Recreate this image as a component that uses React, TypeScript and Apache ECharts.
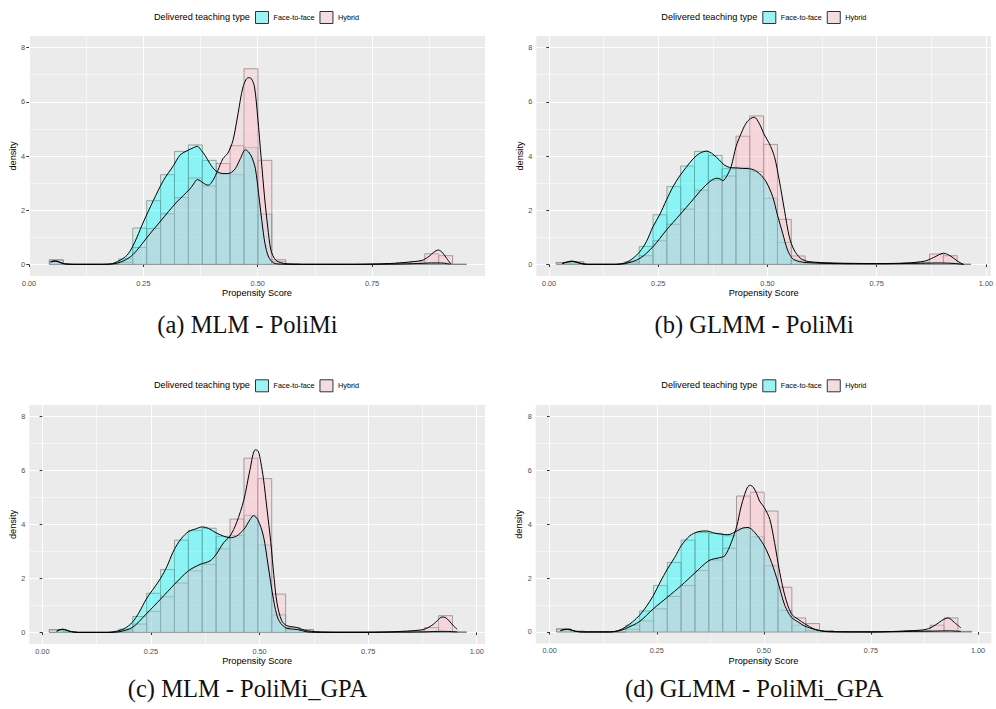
import React, { useEffect, useRef } from "react";
import * as echarts from "echarts";

// ---------- data ----------
const groupNames = ["Face-to-face", "Hybrid"];
const legendTitle = "Delivered teaching type";
const xTitle = "Propensity Score";
const yTitle = "density";
const xTickValues = [0, 0.25, 0.5, 0.75, 1];
const xMinorValues = [0.125, 0.375, 0.625, 0.875];
const yTickValues = [0, 2, 4, 6, 8];
const yMinorValues = [1, 3, 5, 7];
const captions = [
  "(a) MLM - PoliMi",
  "(b) GLMM - PoliMi",
  "(c) MLM - PoliMi_GPA",
  "(d) GLMM - PoliMi_GPA",
];

// Panel (a)
const binStartA = 0.0445;
const binWidthA = 0.0304;
const f2fHistA = [0.15, 0, 0, 0, 0, 0.2, 1.34, 2.35, 3.31, 4.17, 4.41, 3.84, 3.33, 3.31, 4.31, 1.85, 0.1, 0.02, 0, 0, 0, 0, 0, 0, 0.01, 0.02, 0.04, 0.06, 0.05, 0];
const hybHistA = [0.17, 0, 0, 0, 0, 0.08, 0.62, 1.32, 1.87, 2.46, 3.19, 2.89, 3.72, 4.38, 7.22, 3.84, 0.17, 0.02, 0, 0, 0, 0, 0, 0, 0.03, 0.06, 0.1, 0.39, 0.32, 0];
const f2fDensA = [[0.047, 0.09], [0.055, 0.13], [0.062, 0.12], [0.07, 0.06], [0.08, 0.02], [0.1, 0.0], [0.15, 0.0], [0.177, 0.01], [0.199, 0.15], [0.214, 0.33], [0.226, 0.64], [0.236, 1.0], [0.25, 1.56], [0.272, 2.36], [0.294, 3.1], [0.316, 3.65], [0.33, 4.03], [0.345, 4.19], [0.36, 4.31], [0.368, 4.36], [0.377, 4.2], [0.385, 4.02], [0.396, 3.71], [0.407, 3.47], [0.418, 3.37], [0.429, 3.35], [0.44, 3.37], [0.451, 3.53], [0.462, 3.9], [0.473, 4.23], [0.48, 4.15], [0.487, 3.96], [0.495, 3.53], [0.502, 2.61], [0.509, 1.62], [0.516, 0.76], [0.524, 0.27], [0.535, 0.05], [0.55, 0.01], [0.6, 0.0], [0.7, 0.0], [0.8, 0.01], [0.85, 0.03], [0.88, 0.05], [0.9, 0.05], [0.92, 0.01]];
const hybDensA = [[0.047, 0.08], [0.055, 0.11], [0.062, 0.1], [0.07, 0.05], [0.08, 0.01], [0.1, 0.0], [0.15, 0.0], [0.18, 0.01], [0.2, 0.08], [0.221, 0.27], [0.235, 0.5], [0.25, 0.82], [0.268, 1.2], [0.286, 1.56], [0.305, 1.95], [0.323, 2.3], [0.338, 2.55], [0.352, 2.79], [0.36, 2.97], [0.368, 3.13], [0.375, 3.08], [0.381, 3.0], [0.392, 2.92], [0.402, 3.1], [0.413, 3.47], [0.424, 3.9], [0.435, 4.11], [0.446, 4.58], [0.457, 5.56], [0.468, 6.55], [0.479, 6.89], [0.486, 6.86], [0.493, 6.55], [0.5, 5.44], [0.508, 3.84], [0.515, 2.49], [0.522, 1.38], [0.529, 0.52], [0.54, 0.15], [0.562, 0.02], [0.6, 0.0], [0.7, 0.0], [0.75, 0.01], [0.8, 0.04], [0.84, 0.1], [0.86, 0.15], [0.875, 0.3], [0.885, 0.45], [0.895, 0.53], [0.903, 0.45], [0.912, 0.25], [0.923, 0.0]];

// Panel (b)
const binStartB = 0.0167;
const binWidthB = 0.03164;
const f2fHistB = [0.05, 0.1, 0, 0, 0, 0.1, 0.66, 1.83, 2.87, 3.63, 4.17, 4.02, 3.53, 3.58, 3.43, 2.44, 0.81, 0.16, 0.05, 0.03, 0.02, 0.01, 0.01, 0.01, 0.02, 0.03, 0.04, 0.05, 0.04, 0];
const hybHistB = [0.07, 0.05, 0, 0, 0, 0.05, 0.32, 0.87, 1.48, 2.04, 2.74, 3.11, 3.26, 4.73, 5.48, 4.43, 1.66, 0.31, 0.08, 0.05, 0.03, 0.02, 0.02, 0.02, 0.03, 0.05, 0.08, 0.38, 0.32, 0];
const f2fDensB = [[0.03, 0.04], [0.042, 0.09], [0.052, 0.12], [0.062, 0.09], [0.075, 0.03], [0.09, 0.0], [0.15, 0.0], [0.175, 0.06], [0.192, 0.22], [0.208, 0.47], [0.223, 0.84], [0.238, 1.39], [0.253, 1.82], [0.269, 2.38], [0.284, 2.87], [0.299, 3.26], [0.314, 3.58], [0.329, 3.88], [0.345, 4.1], [0.361, 4.18], [0.375, 4.07], [0.39, 3.85], [0.401, 3.67], [0.413, 3.58], [0.428, 3.56], [0.443, 3.54], [0.459, 3.53], [0.47, 3.48], [0.481, 3.36], [0.497, 3.05], [0.512, 2.5], [0.523, 1.82], [0.535, 1.14], [0.546, 0.53], [0.557, 0.22], [0.573, 0.1], [0.595, 0.06], [0.65, 0.03], [0.75, 0.02], [0.85, 0.04], [0.9, 0.05], [0.93, 0.03], [0.95, 0.0]];
const hybDensB = [[0.03, 0.03], [0.042, 0.08], [0.052, 0.11], [0.062, 0.08], [0.075, 0.02], [0.09, 0.0], [0.15, 0.0], [0.175, 0.03], [0.208, 0.22], [0.238, 0.65], [0.269, 1.27], [0.299, 1.82], [0.329, 2.38], [0.352, 2.81], [0.368, 3.05], [0.383, 3.18], [0.392, 3.15], [0.398, 3.09], [0.407, 3.26], [0.417, 3.61], [0.428, 4.34], [0.44, 4.84], [0.451, 5.21], [0.462, 5.39], [0.47, 5.43], [0.481, 5.21], [0.493, 4.78], [0.504, 4.47], [0.516, 3.98], [0.527, 3.11], [0.539, 2.0], [0.55, 1.02], [0.561, 0.53], [0.576, 0.22], [0.595, 0.1], [0.65, 0.05], [0.75, 0.03], [0.82, 0.05], [0.86, 0.12], [0.88, 0.25], [0.903, 0.41], [0.92, 0.3], [0.935, 0.12], [0.948, 0.0]];

// Panel (c)
const binStartC = 0.0161;
const binWidthC = 0.032;
const f2fHistC = [0.1, 0.02, 0, 0, 0, 0.12, 0.59, 1.45, 2.33, 3.42, 3.78, 3.86, 3.56, 3.59, 4.34, 3.24, 0.65, 0.1, 0.1, 0.02, 0.01, 0.01, 0.01, 0.01, 0.01, 0.01, 0.02, 0.03, 0.03, 0.01];
const hybHistC = [0.1, 0.02, 0, 0, 0, 0.05, 0.31, 0.78, 1.32, 1.83, 2.28, 2.52, 3.1, 4.2, 6.46, 5.7, 1.42, 0.18, 0.1, 0.02, 0.01, 0.01, 0.01, 0.01, 0.01, 0.03, 0.06, 0.18, 0.62, 0.02];
const f2fDensC = [[0.033, 0.05], [0.04, 0.1], [0.047, 0.12], [0.055, 0.09], [0.065, 0.04], [0.08, 0.0], [0.15, 0.0], [0.175, 0.06], [0.19, 0.15], [0.207, 0.37], [0.223, 0.75], [0.239, 1.23], [0.255, 1.6], [0.272, 2.0], [0.287, 2.45], [0.3, 2.95], [0.31, 3.25], [0.321, 3.5], [0.336, 3.73], [0.355, 3.85], [0.368, 3.91], [0.382, 3.86], [0.4, 3.69], [0.417, 3.57], [0.432, 3.51], [0.447, 3.57], [0.464, 3.82], [0.478, 4.18], [0.486, 4.33], [0.496, 4.18], [0.509, 3.57], [0.52, 2.46], [0.532, 1.23], [0.543, 0.49], [0.559, 0.18], [0.578, 0.12], [0.59, 0.1], [0.609, 0.02], [0.65, 0.0], [0.8, 0.01], [0.88, 0.02], [0.92, 0.04], [0.955, 0.02]];
const hybDensC = [[0.033, 0.04], [0.04, 0.09], [0.047, 0.11], [0.055, 0.08], [0.065, 0.03], [0.08, 0.0], [0.15, 0.0], [0.175, 0.02], [0.207, 0.18], [0.239, 0.68], [0.272, 1.23], [0.304, 1.78], [0.336, 2.28], [0.363, 2.52], [0.386, 2.65], [0.4, 2.89], [0.417, 3.32], [0.432, 3.57], [0.447, 4.06], [0.464, 4.92], [0.478, 6.03], [0.49, 6.77], [0.497, 6.72], [0.503, 6.3], [0.509, 5.7], [0.517, 4.6], [0.526, 3.32], [0.533, 2.1], [0.54, 1.11], [0.551, 0.43], [0.563, 0.25], [0.586, 0.18], [0.609, 0.06], [0.65, 0.01], [0.75, 0.0], [0.8, 0.02], [0.85, 0.06], [0.88, 0.12], [0.9, 0.3], [0.91, 0.45], [0.92, 0.57], [0.928, 0.55], [0.937, 0.42], [0.946, 0.25], [0.955, 0.12]];

// Panel (d)
const binStartD = 0.0163;
const binWidthD = 0.0323;
const f2fHistD = [0.1, 0.03, 0, 0, 0, 0.25, 0.78, 1.72, 2.58, 3.41, 3.69, 3.66, 3.57, 3.85, 3.53, 2.46, 0.8, 0.25, 0.05, 0.02, 0.01, 0.01, 0.01, 0.01, 0.01, 0.02, 0.02, 0.03, 0.03, 0.02];
const hybHistD = [0.12, 0.02, 0, 0, 0, 0.1, 0.41, 0.86, 1.32, 1.72, 2.28, 2.67, 3.11, 5.05, 5.19, 4.49, 1.66, 0.52, 0.31, 0.05, 0.01, 0.01, 0.01, 0.01, 0.01, 0.03, 0.05, 0.25, 0.52, 0.02];
const f2fDensD = [[0.025, 0.05], [0.033, 0.09], [0.042, 0.1], [0.05, 0.08], [0.06, 0.03], [0.075, 0.0], [0.14, 0.0], [0.16, 0.05], [0.177, 0.18], [0.194, 0.38], [0.21, 0.62], [0.226, 0.95], [0.242, 1.35], [0.258, 1.85], [0.275, 2.34], [0.292, 2.77], [0.307, 3.2], [0.327, 3.57], [0.346, 3.72], [0.366, 3.75], [0.385, 3.67], [0.401, 3.63], [0.416, 3.61], [0.437, 3.75], [0.451, 3.86], [0.463, 3.88], [0.479, 3.69], [0.501, 3.2], [0.518, 2.58], [0.533, 1.85], [0.549, 0.98], [0.564, 0.55], [0.58, 0.37], [0.595, 0.22], [0.619, 0.09], [0.65, 0.01], [0.75, 0.0], [0.85, 0.02], [0.9, 0.03], [0.93, 0.04], [0.96, 0.02]];
const hybDensD = [[0.025, 0.04], [0.033, 0.08], [0.042, 0.09], [0.05, 0.07], [0.06, 0.02], [0.075, 0.0], [0.14, 0.0], [0.16, 0.03], [0.177, 0.12], [0.21, 0.39], [0.242, 0.86], [0.275, 1.29], [0.307, 1.72], [0.339, 2.19], [0.372, 2.65], [0.397, 2.76], [0.409, 2.83], [0.424, 3.32], [0.437, 3.94], [0.446, 4.6], [0.455, 5.1], [0.462, 5.38], [0.468, 5.45], [0.475, 5.38], [0.483, 5.15], [0.49, 4.86], [0.501, 4.62], [0.514, 4.18], [0.525, 3.32], [0.537, 2.22], [0.549, 1.35], [0.564, 0.68], [0.58, 0.47], [0.595, 0.31], [0.619, 0.1], [0.65, 0.01], [0.75, 0.0], [0.85, 0.05], [0.88, 0.1], [0.9, 0.25], [0.915, 0.42], [0.93, 0.52], [0.945, 0.35], [0.96, 0.15]];

// ---------- layout & style ----------
const FONT = "'Liberation Sans', Arial, Helvetica, sans-serif";
const SERIF = "'Liberation Serif', 'DejaVu Serif', serif";

const panels = [
  { binStart: binStartA, binWidth: binWidthA, f2fHist: f2fHistA, hybHist: hybHistA, f2fDens: f2fDensA, hybDens: hybDensA },
  { binStart: binStartB, binWidth: binWidthB, f2fHist: f2fHistB, hybHist: hybHistB, f2fDens: f2fDensB, hybDens: hybDensB },
  { binStart: binStartC, binWidth: binWidthC, f2fHist: f2fHistC, hybHist: hybHistC, f2fDens: f2fDensC, hybDens: hybDensC },
  { binStart: binStartD, binWidth: binWidthD, f2fHist: f2fHistD, hybHist: hybHistD, f2fDens: f2fDensD, hybDens: hybDensD },
];

const layouts = [
  { left: 29, top: 36, width: 456, height: 240, xMin: 0.0, xMax: 0.997, legendX: 255, legendY: 11, capX: 247.5, capY: 324 },
  { left: 536.3, top: 36, width: 456, height: 240, xMin: -0.029, xMax: 1.0115, legendX: 762.3, legendY: 11, capX: 754.2, capY: 324 },
  { left: 29.3, top: 405, width: 455.7, height: 239, xMin: -0.03, xMax: 1.019, legendX: 255, legendY: 379.3, capX: 247.5, capY: 688.5 },
  { left: 535.7, top: 405, width: 455.6, height: 238.5, xMin: -0.0326, xMax: 1.031, legendX: 762.3, legendY: 379.3, capX: 754.2, capY: 688.5 },
];
const Y_MIN = -0.43;
const Y_MAX = 8.43;

const F2F_BAR = "rgba(0,255,255,0.15)";
const HYB_BAR = "rgba(255,192,203,0.32)";
const F2F_AREA = "rgba(0,255,255,0.3)";
const HYB_AREA = "rgba(255,192,203,0.27)";
const BAR_STROKE = "rgba(128,128,128,0.7)";
const F2F_KEY = "#9cf3f3";
const HYB_KEY = "#f4dde2";

function histSeries(name: string, data: number[][], axisIdx: number, fill: string) {
  return {
    type: "custom",
    name,
    xAxisIndex: axisIdx,
    yAxisIndex: axisIdx,
    silent: true,
    encode: { x: [0, 1], y: 2 },
    data,
    renderItem: (params: any, api: any) => {
      const p0 = api.coord([api.value(0), api.value(2)]);
      const p1 = api.coord([api.value(1), 0]);
      return {
        type: "rect",
        shape: { x: p0[0], y: p0[1], width: p1[0] - p0[0], height: p1[1] - p0[1] },
        style: { fill, stroke: BAR_STROKE, lineWidth: 1 },
      };
    },
  };
}

function densSeries(name: string, data: number[][], axisIdx: number, fill: string, key: string) {
  return {
    type: "line",
    name,
    xAxisIndex: axisIdx,
    yAxisIndex: axisIdx,
    silent: true,
    data,
    smooth: 0.3,
    symbol: "none",
    showSymbol: false,
    itemStyle: { color: key },
    lineStyle: { color: "#000", width: 1 },
    areaStyle: { color: fill, opacity: 1 },
    emphasis: { disabled: true },
  };
}

function buildOption() {
  const grid: any[] = [];
  const xAxis: any[] = [];
  const yAxis: any[] = [];
  const series: any[] = [];
  const legend: any[] = [];
  const graphic: any[] = [];

  panels.forEach((p, i) => {
    const L = layouts[i];
    grid.push({
      left: L.left, top: L.top, width: L.width, height: L.height,
      show: true, backgroundColor: "#EBEBEB", borderWidth: 0,
    });
    xAxis.push({
      type: "value", gridIndex: i, min: L.xMin, max: L.xMax, position: "bottom",
      axisLine: { show: false },
      axisTick: { show: true, length: 2.7, customValues: xTickValues, lineStyle: { color: "#333333", width: 1 } },
      axisLabel: {
        customValues: xTickValues, formatter: (v: number) => v.toFixed(2),
        color: "#4D4D4D", fontSize: 7.3, margin: 3.8, fontFamily: FONT,
      },
      splitLine: { show: true, lineStyle: { color: "#FFFFFF", width: 1.1 } },
      name: xTitle, nameLocation: "middle", nameGap: 12.5,
      nameTextStyle: { color: "#000", fontSize: 9.2, fontFamily: FONT },
    });
    xAxis.push({
      type: "value", gridIndex: i, min: L.xMin, max: L.xMax, position: "bottom",
      axisLine: { show: false },
      axisTick: { show: false, customValues: xMinorValues },
      axisLabel: { show: false, customValues: xMinorValues },
      splitLine: { show: true, lineStyle: { color: "#FFFFFF", width: 0.55 } },
    });
    yAxis.push({
      type: "value", gridIndex: i, min: Y_MIN, max: Y_MAX, position: "left",
      axisLine: { show: false },
      axisTick: { show: true, length: 2.7, customValues: yTickValues, lineStyle: { color: "#333333", width: 1 } },
      axisLabel: {
        customValues: yTickValues, formatter: (v: number) => String(v),
        color: "#4D4D4D", fontSize: 7.3, margin: 4, fontFamily: FONT,
      },
      splitLine: { show: true, lineStyle: { color: "#FFFFFF", width: 1.1 } },
      name: yTitle, nameLocation: "middle", nameGap: 11,
      nameTextStyle: { color: "#000", fontSize: 9.2, fontFamily: FONT },
    });
    yAxis.push({
      type: "value", gridIndex: i, min: Y_MIN, max: Y_MAX, position: "left",
      axisLine: { show: false },
      axisTick: { show: false, customValues: yMinorValues },
      axisLabel: { show: false, customValues: yMinorValues },
      splitLine: { show: true, lineStyle: { color: "#FFFFFF", width: 0.55 } },
    });

    const ai = 2 * i;
    const toBins = (h: number[]) =>
      h.map((v, k) => [p.binStart + k * p.binWidth, p.binStart + (k + 1) * p.binWidth, v]);
    series.push(histSeries(groupNames[0], toBins(p.f2fHist), ai, F2F_BAR));
    series.push(histSeries(groupNames[1], toBins(p.hybHist), ai, HYB_BAR));
    series.push(densSeries(groupNames[0], p.f2fDens, ai, F2F_AREA, F2F_KEY));
    series.push(densSeries(groupNames[1], p.hybDens, ai, HYB_AREA, HYB_KEY));

    const legendText = { color: "#000", fontSize: 7.3, fontFamily: FONT };
    legend.push({
      left: L.legendX, top: L.legendY, orient: "horizontal", padding: 0,
      icon: "rect", itemWidth: 13, itemHeight: 12, itemGap: 5, selectedMode: false,
      inactiveColor: "#000",
      textStyle: legendText,
      data: [
        { name: groupNames[0], textStyle: legendText, itemStyle: { color: F2F_KEY, borderColor: "#333333", borderWidth: 1 } },
        { name: groupNames[1], textStyle: legendText, itemStyle: { color: HYB_KEY, borderColor: "#333333", borderWidth: 1 } },
      ],
    });
    graphic.push({
      type: "text", silent: true, x: L.legendX - 5, y: L.legendY + 6,
      style: { text: legendTitle, align: "right", verticalAlign: "middle", fontSize: 9.2, fontFamily: FONT, fill: "#000" },
    });
    graphic.push({
      type: "text", silent: true, x: L.capX, y: L.capY,
      style: { text: captions[i], align: "center", verticalAlign: "middle", fontSize: 24.5, fontFamily: SERIF, fill: "#111" },
    });
  });

  return {
    animation: false,
    backgroundColor: "#FFFFFF",
    textStyle: { fontFamily: FONT },
    grid, xAxis, yAxis, series, legend, graphic,
  };
}

export default function App() {
  const ref = useRef<HTMLDivElement>(null);
  useEffect(() => {
    document.body.style.margin = "0";
    if (!ref.current) return;
    const chart = echarts.init(ref.current, undefined, { renderer: "svg" });
    chart.setOption(buildOption() as any);
    return () => chart.dispose();
  }, []);
  return <div ref={ref} style={{ width: 996, height: 709 }} />;
}
